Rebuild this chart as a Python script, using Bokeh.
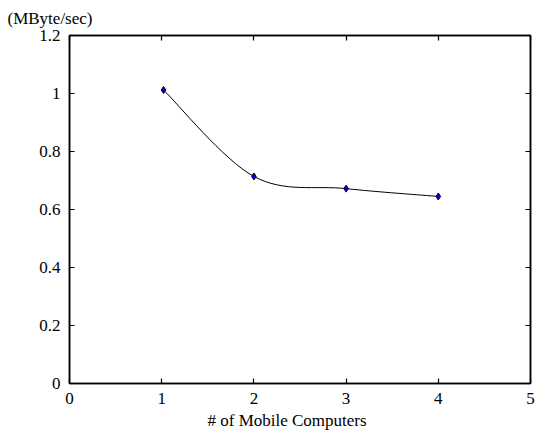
from bokeh.plotting import figure
from bokeh.models import Range1d, FixedTicker, LinearAxis, Title
from bokeh.embed import file_html
from bokeh.resources import INLINE

# Data
computers = [1.02, 2, 3, 4]
throughput = [1.012, 0.714, 0.672, 0.645]
x_ticks = [0, 1, 2, 3, 4, 5]
y_ticks = [0, 0.2, 0.4, 0.6, 0.8, 1.0, 1.2]
y_tick_labels = ["0", "0.2", "0.4", "0.6", "0.8", "1", "1.2"]
y_unit = "(MByte/sec)"
x_title = "# of Mobile Computers"

FONT = "Liberation Serif"
FS = "17px"

p = figure(width=535, height=435, output_backend="svg", toolbar_location=None,
           x_range=Range1d(0, 5), y_range=Range1d(0, 1.2),
           min_border_left=69, min_border_right=5, min_border_top=35, min_border_bottom=52,
           x_axis_location=None, y_axis_location=None,
           title=y_unit, title_location="above")
p.xgrid.visible = False
p.ygrid.visible = False
p.outline_line_color = "black"
p.outline_line_width = 1.5
p.background_fill_color = "white"
p.border_fill_color = "white"

p.title.align = "left"
p.title.vertical_align = "top"
p.title.offset = -62
p.title.text_font = FONT
p.title.text_font_size = FS
p.title.text_font_style = "normal"
p.title.text_color = "black"
p.title.standoff = 12

def style(ax, labels=True):
    ax.major_tick_in = 5
    ax.major_tick_out = 0
    ax.minor_tick_line_color = None
    ax.axis_line_color = "black"
    ax.axis_line_width = 1.5
    ax.major_tick_line_color = "black"
    ax.major_tick_line_width = 1.2
    ax.major_label_text_font = FONT
    ax.major_label_text_color = "black"
    ax.major_label_text_font_size = FS
    ax.major_label_standoff = 9 if labels else 0

xb = LinearAxis(ticker=FixedTicker(ticks=x_ticks))
style(xb)
p.add_layout(xb, "below")

xlab = Title(text=x_title, align="left", offset=138, vertical_align="bottom",
             text_font=FONT, text_font_size=FS, text_font_style="normal",
             text_color="black", standoff=5)
p.add_layout(xlab, "below")

xt = LinearAxis(ticker=FixedTicker(ticks=x_ticks),
                major_label_overrides={t: "" for t in x_ticks})
style(xt, labels=False)
p.add_layout(xt, "above")

yl = LinearAxis(ticker=FixedTicker(ticks=y_ticks),
                major_label_overrides={t: l for t, l in zip(y_ticks, y_tick_labels)})
style(yl)
p.add_layout(yl, "left")

yr = LinearAxis(ticker=FixedTicker(ticks=y_ticks),
                major_label_overrides={t: "" for t in y_ticks})
style(yr, labels=False)
p.add_layout(yr, "right")

# smoothed line (Catmull-Rom as cubic Bezier segments between the data points)
n = len(computers)
x0, y0, x1, y1, cx0, cy0, cx1, cy1 = ([] for _ in range(8))
for i in range(n - 1):
    pm = max(i - 1, 0)
    pp = min(i + 2, n - 1)
    x0.append(computers[i]); y0.append(throughput[i])
    x1.append(computers[i + 1]); y1.append(throughput[i + 1])
    cx0.append(computers[i] + (computers[i + 1] - computers[pm]) / 6)
    cy0.append(throughput[i] + (throughput[i + 1] - throughput[pm]) / 6)
    cx1.append(computers[i + 1] - (computers[pp] - computers[i]) / 6)
    cy1.append(throughput[i + 1] - (throughput[pp] - throughput[i]) / 6)
p.bezier(x0=x0, y0=y0, x1=x1, y1=y1, cx0=cx0, cy0=cy0, cx1=cx1, cy1=cy1,
         line_color="black", line_width=1)

p.scatter(computers, throughput, marker="diamond", size=7,
          fill_color="#0000ee", line_color="black", line_width=1)

open("out.html", "w").write(file_html(p, INLINE))
